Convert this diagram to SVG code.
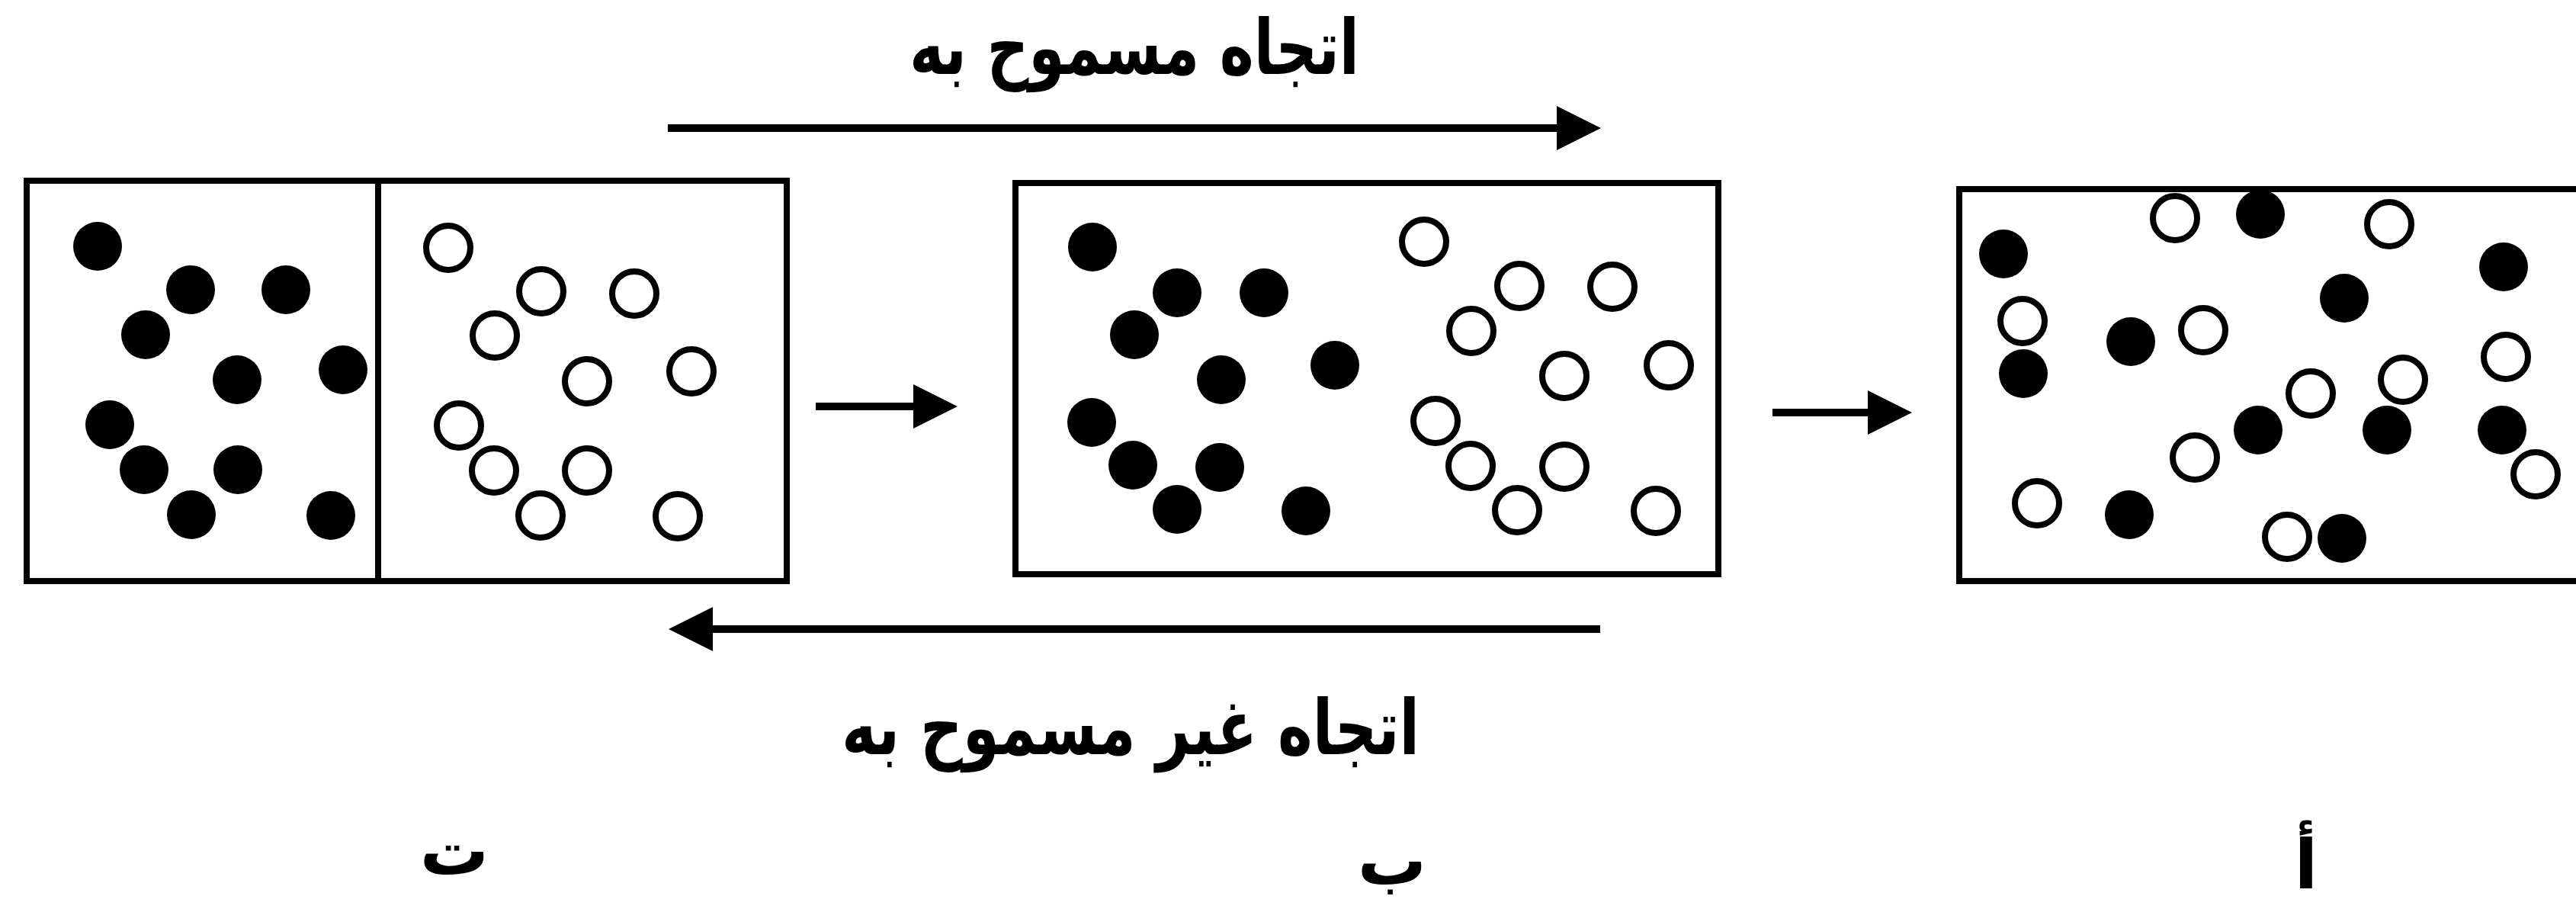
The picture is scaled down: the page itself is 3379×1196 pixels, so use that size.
<svg xmlns="http://www.w3.org/2000/svg" width="3379" height="1196" viewBox="0 0 3379 1196">
<style>
.box{fill:none;stroke:#000;stroke-width:8}
.b{fill:#000}
.w{fill:#fff;stroke:#000;stroke-width:8}
.arr{stroke:#000;stroke-width:10;fill:none}
.t{font-family:"DejaVu Sans",sans-serif;font-weight:bold;font-size:90px;fill:#000;text-anchor:middle}
.big{font-size:100px}
</style>
<defs>
<marker id="ah" viewBox="0 -29 58 58" refX="0" refY="0" markerWidth="58" markerHeight="58" markerUnits="userSpaceOnUse" orient="auto">
<path d="M0,-29 L58,0 L0,29 Z" fill="#000"/>
</marker>
</defs>
<rect width="3379" height="1196" fill="#fff"/>
<g id="box-left">
<rect class="box" x="35" y="237" width="997" height="525"/>
<line class="box" x1="496" y1="237" x2="496" y2="762"/>
<circle class="b" cx="128" cy="323" r="32"/>
<circle class="b" cx="250" cy="380" r="32"/>
<circle class="b" cx="375" cy="380" r="32"/>
<circle class="b" cx="191" cy="439" r="32"/>
<circle class="b" cx="311" cy="498" r="32"/>
<circle class="b" cx="450" cy="485" r="32"/>
<circle class="b" cx="144" cy="557" r="32"/>
<circle class="b" cx="189" cy="616" r="32"/>
<circle class="b" cx="312" cy="616" r="32"/>
<circle class="b" cx="251" cy="675" r="32"/>
<circle class="b" cx="434" cy="676" r="32"/>
<circle class="w" cx="588" cy="325" r="29"/>
<circle class="w" cx="710" cy="382" r="29"/>
<circle class="w" cx="832" cy="385" r="29"/>
<circle class="w" cx="649" cy="440" r="29"/>
<circle class="w" cx="770" cy="500" r="29"/>
<circle class="w" cx="907" cy="487" r="29"/>
<circle class="w" cx="602" cy="558" r="29"/>
<circle class="w" cx="648" cy="617" r="29"/>
<circle class="w" cx="770" cy="617" r="29"/>
<circle class="w" cx="709" cy="676" r="29"/>
<circle class="w" cx="889" cy="677" r="29"/>
</g>
<g id="box-middle">
<rect class="box" x="1332" y="240" width="922" height="513"/>
<circle class="b" cx="1433" cy="324" r="32"/>
<circle class="b" cx="1544" cy="384" r="32"/>
<circle class="b" cx="1658" cy="384" r="32"/>
<circle class="b" cx="1488" cy="439" r="32"/>
<circle class="b" cx="1602" cy="498" r="32"/>
<circle class="b" cx="1751" cy="479" r="32"/>
<circle class="b" cx="1432" cy="554" r="32"/>
<circle class="b" cx="1486" cy="610" r="32"/>
<circle class="b" cx="1600" cy="613" r="32"/>
<circle class="b" cx="1544" cy="668" r="32"/>
<circle class="b" cx="1713" cy="670" r="32"/>
<circle class="w" cx="1868" cy="317" r="29"/>
<circle class="w" cx="1993" cy="375" r="29"/>
<circle class="w" cx="2115" cy="376" r="29"/>
<circle class="w" cx="1930" cy="434" r="29"/>
<circle class="w" cx="2052" cy="493" r="29"/>
<circle class="w" cx="2189" cy="479" r="29"/>
<circle class="w" cx="1883" cy="552" r="29"/>
<circle class="w" cx="1929" cy="611" r="29"/>
<circle class="w" cx="2052" cy="612" r="29"/>
<circle class="w" cx="1990" cy="669" r="29"/>
<circle class="w" cx="2172" cy="670" r="29"/>
</g>
<g id="box-right">
<rect class="box" x="2570" y="248" width="830" height="514"/>
<circle class="b" cx="2628" cy="333" r="32"/>
<circle class="b" cx="2965" cy="281" r="32"/>
<circle class="b" cx="3075" cy="391" r="32"/>
<circle class="b" cx="3284" cy="350" r="32"/>
<circle class="b" cx="2795" cy="448" r="32"/>
<circle class="b" cx="2654" cy="490" r="32"/>
<circle class="b" cx="2962" cy="564" r="32"/>
<circle class="b" cx="3131" cy="564" r="32"/>
<circle class="b" cx="3282" cy="564" r="32"/>
<circle class="b" cx="2793" cy="675" r="32"/>
<circle class="b" cx="3072" cy="706" r="32"/>
<circle class="w" cx="2853" cy="286" r="29"/>
<circle class="w" cx="3134" cy="294" r="29"/>
<circle class="w" cx="2653" cy="421" r="29"/>
<circle class="w" cx="2890" cy="433" r="29"/>
<circle class="w" cx="3287" cy="468" r="29"/>
<circle class="w" cx="3152" cy="498" r="29"/>
<circle class="w" cx="3031" cy="516" r="29"/>
<circle class="w" cx="2879" cy="600" r="29"/>
<circle class="w" cx="3326" cy="622" r="29"/>
<circle class="w" cx="2672" cy="660" r="29"/>
<circle class="w" cx="3000" cy="704" r="29"/>
</g>
<g id="connectors">
<line class="arr" x1="876" y1="168" x2="2042" y2="168" marker-end="url(#ah)"/>
<line class="arr" x1="2099" y1="825" x2="935" y2="825" marker-end="url(#ah)"/>
<line class="arr" x1="1070" y1="533" x2="1198" y2="533" marker-end="url(#ah)"/>
<line class="arr" x1="2325" y1="541" x2="2450" y2="541" marker-end="url(#ah)"/>
</g>
<g id="labels">
<text class="t big" x="1488" y="97" textLength="590" lengthAdjust="spacingAndGlyphs">اتجاه مسموح به</text>
<text class="t big" x="1483" y="989" textLength="758" lengthAdjust="spacingAndGlyphs">اتجاه غير مسموح به</text>
<text class="t" x="596" y="1147">ت</text>
<text class="t" x="1826" y="1160">ب</text>
<text class="t" x="3025" y="1165">أ</text>
</g>
</svg>
